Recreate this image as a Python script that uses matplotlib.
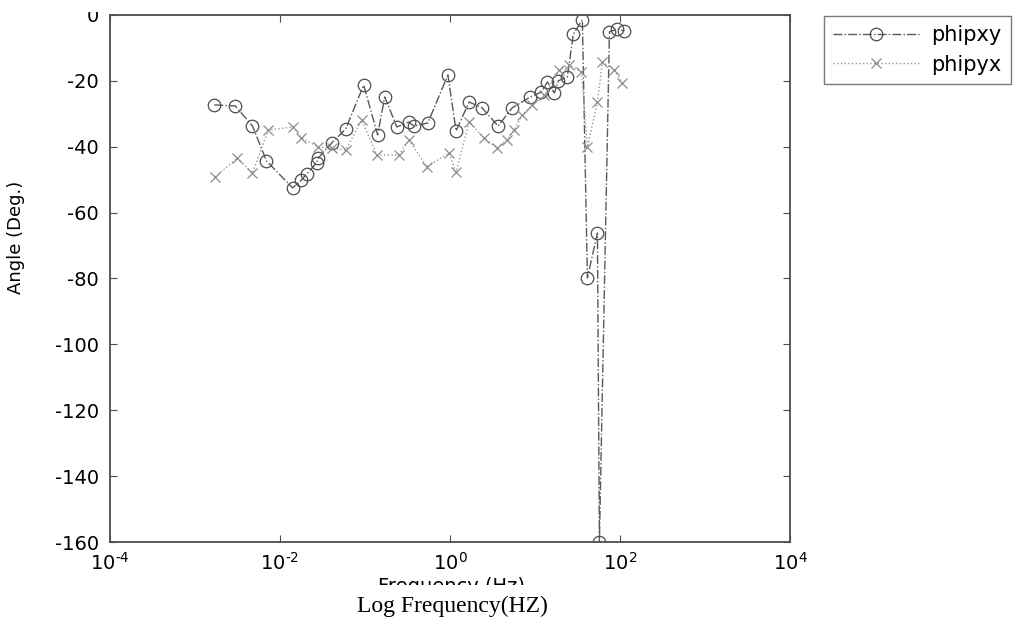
# Phase angle vs frequency (phipxy / phipyx), MATLAB-style scanned plot

import numpy as np
import matplotlib.pyplot as plt
from matplotlib.patches import Rectangle

plt.rcParams['font.family'] = ['DejaVu Sans']
plt.rcParams['axes.unicode_minus'] = False
plt.rcParams['mathtext.default'] = 'regular'

# data
freq_xy = [0.00169, 0.00298, 0.00475, 0.00694, 0.0141, 0.0179, 0.0206, 0.0270,
           0.0284, 0.0405, 0.0593, 0.0966, 0.141, 0.171, 0.237, 0.328, 0.376,
           0.549, 0.946, 1.18, 1.68, 2.39, 3.68, 5.39, 8.79, 11.9, 14.0, 16.9,
           18.8, 24.0, 28.3, 36.1, 41.4, 54.3, 57.3, 75.2, 93.4, 113.0]
phipxy = [-27.3, -27.6, -33.7, -44.3, -52.5, -50.1, -48.3, -44.9,
          -43.4, -38.9, -34.6, -21.3, -36.4, -24.9, -34.0, -32.5, -33.7,
          -32.8, -18.2, -35.2, -26.4, -28.2, -33.7, -28.2, -24.9, -23.4, -20.3, -23.7,
          -20.0, -18.8, -5.8, -1.5, -79.8, -66.2, -160.0, -5.1, -4.3, -4.8]

freq_yx = [0.00173, 0.00316, 0.00475, 0.00731, 0.0144, 0.0179, 0.0284, 0.0405,
           0.0593, 0.0916, 0.138, 0.250, 0.328, 0.536, 0.973, 1.18, 1.68, 2.52,
           3.59, 4.71, 5.69, 7.08, 9.29, 12.9, 19.3, 25.4, 35.2, 41.4, 54.3,
           62.2, 86.1, 107.0]
phipyx = [-49.2, -43.4, -48.0, -34.9, -34.0, -37.3, -40.1, -40.4,
          -41.0, -31.9, -42.5, -42.5, -37.9, -46.1, -41.9, -47.7, -32.5, -37.3,
          -40.4, -37.9, -34.9, -30.4, -27.3, -24.3, -16.7, -15.2, -17.3, -40.1, -26.4,
          -14.3, -16.7, -20.6]

xtick_pos = [1e-4, 1e-2, 1e0, 1e2, 1e4]
# hyphen (not minus sign) in the exponent, as in the original
xtick_labels = [r'$10^{\text{-}4}$', r'$10^{\text{-}2}$', '$10^{0}$', '$10^{2}$', '$10^{4}$']

fig = plt.figure(figsize=(10.18, 6.24), dpi=100)
ax = fig.add_axes([0.108, 0.1314, 0.668, 0.8446])

ax.semilogx(freq_xy, phipxy, linestyle='-.', color='0.35', linewidth=1.0,
            marker='o', markersize=9, markerfacecolor='none',
            markeredgecolor='0.3', markeredgewidth=0.9, label='phipxy')
ax.semilogx(freq_yx, phipyx, linestyle=':', color='0.6', linewidth=1.0,
            marker='x', markersize=7, markeredgecolor='0.55',
            markeredgewidth=0.9, label='phipyx')

ax.set_xlim(1e-4, 1e4)
ax.set_ylim(-160, 0)
ax.set_xticks(xtick_pos)
ax.set_xticklabels(xtick_labels)
ax.xaxis.set_minor_locator(plt.NullLocator())
ax.set_yticks(np.arange(-160, 1, 20))
ax.tick_params(direction='in', length=5, width=0.8, color='0.3',
               top=True, right=True, labelsize=14)
ax.tick_params(axis='y', pad=8)
ax.tick_params(axis='x', pad=7)
for s in ax.spines.values():
    s.set_color('0.3')
    s.set_linewidth(1.3)

leg = ax.legend(loc='upper left', bbox_to_anchor=(824 / 1018, 1 - 16 / 624),
                bbox_transform=fig.transFigure, borderaxespad=0, fontsize=15,
                handlelength=4.1, handletextpad=0.6, frameon=True, fancybox=False,
                edgecolor='0.35', borderpad=0.45, labelspacing=0.45)
leg.get_frame().set_linewidth(1.0)

fig.text(16 / 1018, 1 - 237 / 624, 'Angle (Deg.)', rotation=90,
         ha='center', va='center', fontsize=13)

# scan is cropped at the top: hide the upper half of the "0" label
fig.patches.append(Rectangle((0.0, 1 - 12 / 624), 0.105, 12 / 624,
                             transform=fig.transFigure, facecolor='white',
                             edgecolor='none', zorder=5))

# original axis label, mostly covered by the pasted-on caption
fig.text(451 / 1018, 1 - 577 / 624, 'Frequency (Hz)', ha='center',
         va='top', fontsize=14)
fig.patches.append(Rectangle((0.3, 0), 0.35, 1 - 585 / 624, transform=fig.transFigure,
                             facecolor='white', edgecolor='none', zorder=5))
fig.text(452 / 1018, 1 - 606 / 624, 'Log Frequency(HZ)', ha='center',
         va='center', fontsize=17, family=['Liberation Serif', 'DejaVu Serif'],
         zorder=6)

fig.savefig('out.png', dpi=100)
